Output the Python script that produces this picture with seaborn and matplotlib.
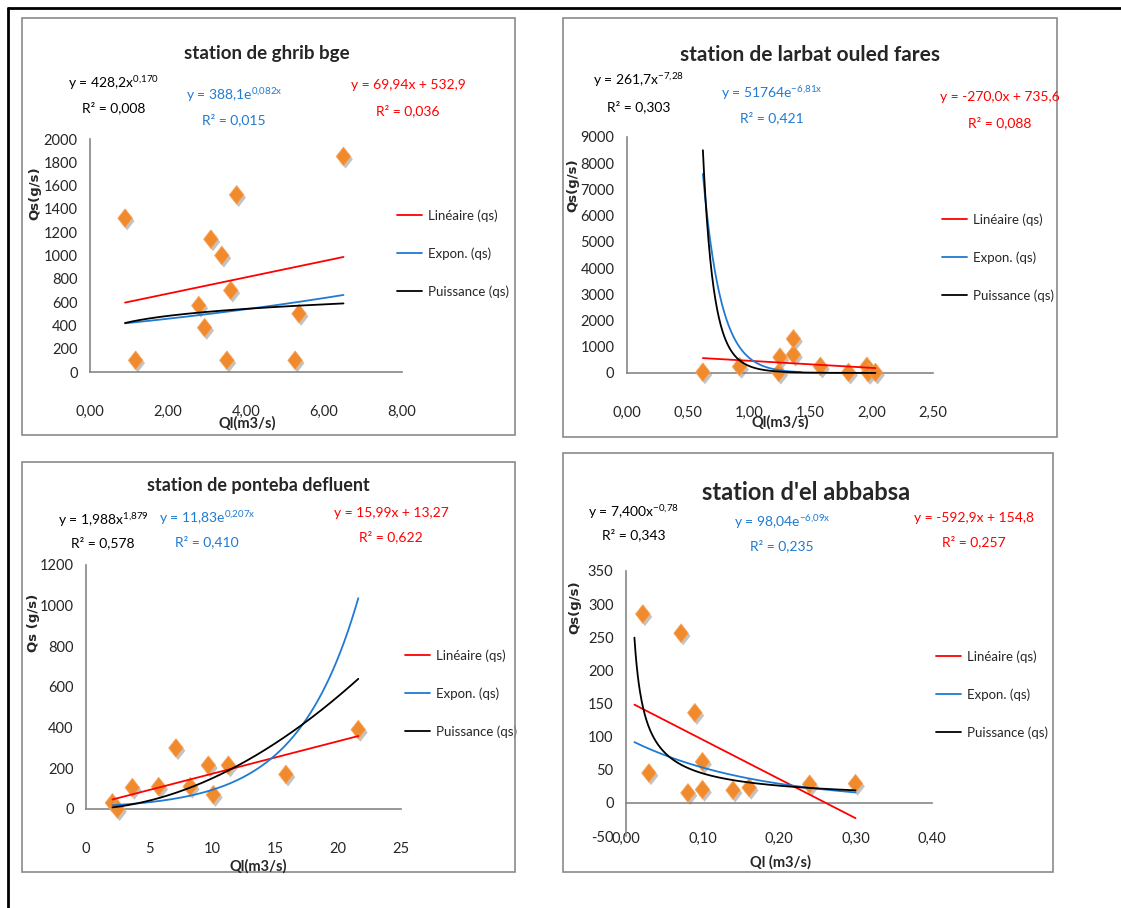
import numpy as np
import matplotlib
matplotlib.use('Agg')
import matplotlib.pyplot as plt
import matplotlib.patheffects as pe
import seaborn as sns
from matplotlib.patches import Rectangle
from matplotlib.lines import Line2D
from matplotlib.path import Path
from matplotlib.ticker import FuncFormatter, MultipleLocator

# --- data ---
ghrib_ql = [0.90, 1.17, 2.79, 2.94, 3.10, 3.38, 3.51, 3.61, 3.76, 5.26, 5.36, 6.50]
ghrib_qs = [1320, 100, 570, 380, 1140, 1000, 100, 700, 1520, 100, 500, 1850]

larbat_ql = [0.62, 0.92, 1.24, 1.25, 1.36, 1.36, 1.58, 1.81, 1.96, 1.97, 2.03]
larbat_qs = [30, 240, 20, 600, 700, 1300, 250, 20, 250, 10, 20]

ponteba_ql = [2.10, 2.50, 3.68, 5.77, 7.14, 8.28, 9.71, 10.11, 11.30, 15.87, 21.61]
ponteba_qs = [30, 0, 105, 110, 300, 110, 215, 70, 215, 170, 390]

abbabsa_ql = [0.022, 0.030, 0.072, 0.081, 0.090, 0.100, 0.100, 0.140, 0.161, 0.240, 0.300]
abbabsa_qs = [285, 45, 256, 15, 136, 62, 20, 19, 23, 28, 29]

# trend line coefficients (linear a*x+b, expon a*e^(b*x), power a*x^b)
ghrib_lin, ghrib_exp, ghrib_pow = (69.94, 532.9), (388.1, 0.082), (428.2, 0.170)
larbat_lin, larbat_exp, larbat_pow = (-270.0, 735.6), (517640, -6.81), (261.7, -7.28)
ponteba_lin, ponteba_exp, ponteba_pow = (15.99, 13.27), (11.83, 0.207), (1.988, 1.879)
abbabsa_lin, abbabsa_exp, abbabsa_pow = (-592.9, 154.8), (98.04, -6.09), (7.400, -0.78)

# x span of each trend line: (start, end, end of expon line)
ghrib_span = (0.90, 6.50, 6.50)
larbat_span = (0.62, 2.03, 1.42)
ponteba_span = (2.10, 21.61, 21.61)
abbabsa_span = (0.011, 0.30, 0.30)

titles = ["station de ghrib bge", "station de larbat ouled fares",
          "station de ponteba defluent", "station d'el abbabsa"]
pow_labels = [r"y = 428,2x$^{\mathregular{0{,}170}}$", r"y = 261,7x$^{\mathregular{-7{,}28}}$",
              r"y = 1,988x$^{\mathregular{1{,}879}}$", r"y = 7,400x$^{\mathregular{-0{,}78}}$"]
pow_r2 = ["R² = 0,008", "R² = 0,303", "R² = 0,578", "R² = 0,343"]
exp_labels = [r"y = 388,1e$^{\mathregular{0{,}082x}}$", r"y = 51764e$^{\mathregular{-6{,}81x}}$",
              r"y = 11,83e$^{\mathregular{0{,}207x}}$", r"y = 98,04e$^{\mathregular{-6{,}09x}}$"]
exp_r2 = ["R² = 0,015", "R² = 0,421", "R² = 0,410", "R² = 0,235"]
lin_labels = ["y = 69,94x + 532,9", "y = -270,0x + 735,6", "y = 15,99x + 13,27", "y = -592,9x + 154,8"]
lin_r2 = ["R² = 0,036", "R² = 0,088", "R² = 0,622", "R² = 0,257"]
xlabels = ["Ql(m3/s)", "Ql(m3/s)", "Ql(m3/s)", "Ql (m3/s)"]
ylabels = ["Qs(g/s)", "Qs(g/s)", "Qs (g/s)", "Qs(g/s)"]
legend_names = ["Linéaire (qs)", "Expon. (qs)", "Puissance (qs)"]

# --- style ---
sns.set_style('white')
FONT = ['Lato', 'DejaVu Sans']
plt.rcParams['font.family'] = FONT
plt.rcParams['mathtext.default'] = 'regular'

W, H = 1121, 908
RED, BLUE, BLACK = '#ff0000', '#1f7ad2', '#000000'
ORANGE, GRAY = '#f08a2c', '#868686'


def fx(px):
    return px / W


def fy(py):
    return 1 - py / H


fig = plt.figure(figsize=(W / 100, H / 100), dpi=100)

# outer frame and panel borders
fig.add_artist(Line2D([fx(8), fx(8)], [fy(8), 0], color='black', lw=2, transform=fig.transFigure))
fig.add_artist(Line2D([fx(8), 1], [fy(8), fy(8)], color='black', lw=2, transform=fig.transFigure))
for (l, t, r, b) in [(22, 18, 515, 435), (563, 18, 1057, 437), (22, 462, 515, 872), (563, 453, 1053, 872)]:
    fig.add_artist(Rectangle((fx(l), fy(b)), (r - l) / W, (b - t) / H, fill=False,
                             ec='#8a8a8a', lw=1.2, transform=fig.transFigure))

# layout per panel (pixels)
axes_px = [(90, 139, 402, 372), (627, 137, 933, 373), (86, 565, 401, 809), (626, 571, 932, 836)]
title_pos = [(267, 53, 13.5), (810, 55, 15), (258, 485, 13), (806, 492, 17)]
pow_pos = [(114, 83, 108), (639, 80, 107), (103, 520, 543), (634, 512, 535)]
exp_pos = [(234, 95, 120), (772, 93, 118), (207, 518, 542), (782, 522, 546)]
lin_pos = [(408, 85, 111), (1000, 97, 123), (391, 513, 537), (974, 518, 542)]
xlab_pos = [(247, 423), (780, 422), (258, 866), (780, 862)]
ylab_pos = [(35, 193), (573, 185), (34, 623), (575, 607)]
leg_pos = [(397, 217), (942, 221), (405, 657), (936, 658)]
ylims = [(0, 2000, 200), (0, 9000, 1000), (0, 1200, 200), (-50, 350, 50)]
xlims = [(0, 8, 2), (0, 2.5, 0.5), (0, 25, 5), (0, 0.4, 0.1)]

panels = [
    (ghrib_ql, ghrib_qs, ghrib_lin, ghrib_exp, ghrib_pow, ghrib_span),
    (larbat_ql, larbat_qs, larbat_lin, larbat_exp, larbat_pow, larbat_span),
    (ponteba_ql, ponteba_qs, ponteba_lin, ponteba_exp, ponteba_pow, ponteba_span),
    (abbabsa_ql, abbabsa_qs, abbabsa_lin, abbabsa_exp, abbabsa_pow, abbabsa_span),
]

diamond = Path([(0, 1), (0.78, 0), (0, -1), (-0.78, 0), (0, 1)],
               [Path.MOVETO, Path.LINETO, Path.LINETO, Path.LINETO, Path.CLOSEPOLY])

comma2 = FuncFormatter(lambda v, p: f"{v:.2f}".replace('.', ','))
integer = FuncFormatter(lambda v, p: f"{v:.0f}")

for i, (ql, qs, lin, expo, powr, span) in enumerate(panels):
    l, t, r, b = axes_px[i]
    ax = fig.add_axes([fx(l), fy(b), (r - l) / W, (b - t) / H])
    ax.set_facecolor('none')

    sns.scatterplot(x=ql, y=qs, marker=diamond, s=180, color=ORANGE, edgecolor='#f6a660',
                    linewidth=0.6, ax=ax, zorder=3, clip_on=False,
                    path_effects=[pe.SimplePatchShadow(offset=(1.5, -2), shadow_rgbFace='#7a7a7a', alpha=0.45),
                                  pe.Normal()])

    xs = np.linspace(span[0], span[1], 400)
    xe = np.linspace(span[0], span[2], 400)
    sns.lineplot(x=xs, y=lin[0] * xs + lin[1], color=RED, lw=1.3, ax=ax, zorder=4,
                 sort=False, estimator=None, clip_on=False)
    sns.lineplot(x=xe, y=expo[0] * np.exp(expo[1] * xe), color=BLUE, lw=1.3, ax=ax, zorder=4,
                 sort=False, estimator=None, clip_on=False)
    sns.lineplot(x=xs, y=powr[0] * xs ** powr[1], color=BLACK, lw=1.3, ax=ax, zorder=4,
                 sort=False, estimator=None, clip_on=False)

    y0, y1, ys = ylims[i]
    x0, x1, xstep = xlims[i]
    ax.set_ylim(y0, y1)
    ax.set_xlim(x0, x1)
    ax.yaxis.set_major_locator(MultipleLocator(ys))
    ax.xaxis.set_major_locator(MultipleLocator(xstep))
    ax.yaxis.set_major_formatter(integer)
    ax.xaxis.set_major_formatter(integer if i == 2 else comma2)

    for s in ['top', 'right']:
        ax.spines[s].set_visible(False)
    for s in ['left', 'bottom']:
        ax.spines[s].set_color(GRAY)
        ax.spines[s].set_linewidth(1.2)
    if y0 < 0:
        ax.spines['bottom'].set_position(('data', 0))
    xpad = 16 if y0 < 0 else 19
    ax.tick_params(axis='x', direction='out', length=5, width=1.1, color=GRAY,
                   labelsize=10.5, pad=xpad)
    ax.tick_params(axis='y', direction='out', length=4, width=1.1, color=GRAY,
                   labelsize=10.5, pad=5)
    ax.set_xlabel('')
    ax.set_ylabel('')

    lines = ax.get_lines()[:3]
    ax.legend(lines, legend_names, loc='upper left', bbox_to_anchor=(fx(leg_pos[i][0]), fy(leg_pos[i][1] - 8)),
              bbox_transform=fig.transFigure, frameon=False, fontsize=9.5, handlelength=1.9,
              handletextpad=0.45, labelspacing=1.95, borderpad=0, borderaxespad=0)

    tx, ty, tsize = title_pos[i]
    fig.text(fx(tx), fy(ty), titles[i], ha='center', va='center', fontsize=tsize, fontweight='bold')
    for (cx, cy1, cy2), eq, r2, col in [(pow_pos[i], pow_labels[i], pow_r2[i], BLACK),
                                        (exp_pos[i], exp_labels[i], exp_r2[i], BLUE),
                                        (lin_pos[i], lin_labels[i], lin_r2[i], RED)]:
        fig.text(fx(cx), fy(cy1), eq, ha='center', va='center', fontsize=10, color=col)
        fig.text(fx(cx), fy(cy2), r2, ha='center', va='center', fontsize=10, color=col)
    fig.text(fx(xlab_pos[i][0]), fy(xlab_pos[i][1]), xlabels[i], ha='center', va='center',
             fontsize=10.5, fontweight='bold')
    fig.text(fx(ylab_pos[i][0]), fy(ylab_pos[i][1]), ylabels[i], ha='center', va='center',
             rotation=90, fontsize=9.5, fontweight='bold', family='DejaVu Sans')

fig.savefig('out.png', dpi=100)
